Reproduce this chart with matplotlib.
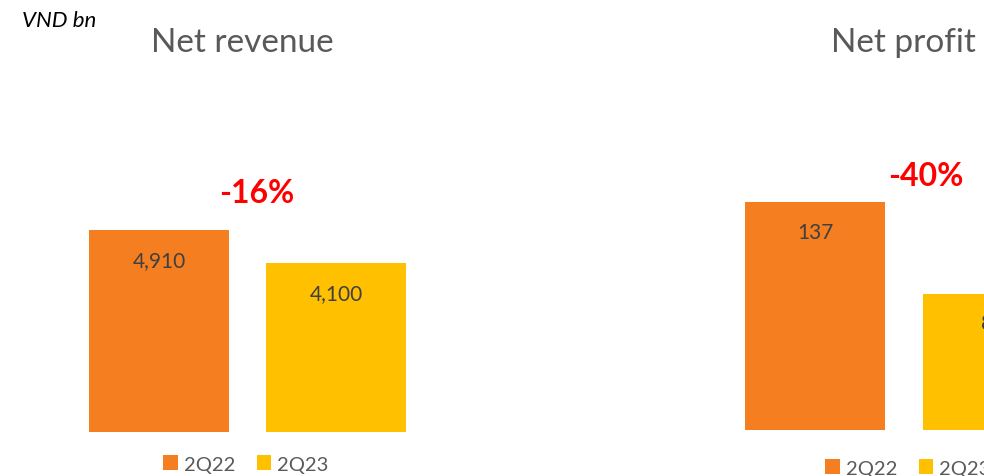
import matplotlib
matplotlib.use("Agg")
import matplotlib.pyplot as plt

plt.rcParams['font.family'] = ['Lato', 'DejaVu Sans']

# data
periods = ["2Q22", "2Q23"]
revenue = [4910, 4100]
profit = [137, 82]
revenue_change = "-16%"
profit_change = "-40%"

colors = ["#F47E20", "#FFC000"]
label_color = "#404040"
title_color = "#595959"

fig = plt.figure(figsize=(9.84, 4.77), dpi=100)
W, H = 984, 477


def make_axes(center0, spacing, zero_y, px_per_unit, ymax, xlo=-0.75, xhi=1.75):
    # place axes in pixel terms so the bars land where they do in the reference
    left = center0 + xlo * spacing
    width = (xhi - xlo) * spacing
    height = ymax * px_per_unit
    ax = fig.add_axes([left / W, (H - zero_y) / H, width / W, height / H])
    ax.set_xlim(xlo, xhi)
    ax.set_ylim(0, ymax)
    ax.axis("off")
    return ax


def draw_panel(ax, values, change, change_x, change_y):
    x = range(len(values))
    bars = ax.bar(x, values, width=0.79, color=colors, label=periods)
    for b, v in zip(bars, values):
        ax.annotate(f"{v:,}", (b.get_x() + b.get_width() / 2, v),
                    xytext=(0, -21.5), textcoords="offset points",
                    ha="center", va="center", fontsize=15, color=label_color)
    ax.text(change_x, change_y, change, ha="center", va="center",
            fontsize=23, fontweight="bold", color="#FF0000")
    return bars


ax1 = make_axes(159, 177, 433, 202 / 4910, 6000)
bars1 = draw_panel(ax1, revenue, revenue_change, 0.55, 5830)

ax2 = make_axes(815, 178, 431, 228 / 137, 160)
bars2 = draw_panel(ax2, profit, profit_change, 0.62, 153)

fig.text(242 / W, 1 - 43 / H, "Net revenue", ha="center", va="center",
         fontsize=24, color=title_color)
fig.text(831 / W, 1 - 43 / H, "Net profit", ha="left", va="center",
         fontsize=24, color=title_color)
fig.text(22 / W, 1 - 21 / H, "VND bn", ha="left", va="center",
         fontsize=16, style="italic", color="black")

leg_kw = dict(ncol=2, frameon=False, fontsize=14.5, handlelength=0.7,
              handleheight=0.7, handletextpad=0.3, columnspacing=1.1,
              labelcolor=title_color, loc="center")
fig.legend(bars1, periods, bbox_to_anchor=(246 / W, 1 - 465 / H), **leg_kw)
fig.legend(bars2, periods, bbox_to_anchor=(908 / W, 1 - 469 / H), **leg_kw)

fig.savefig("out.png", dpi=100)
